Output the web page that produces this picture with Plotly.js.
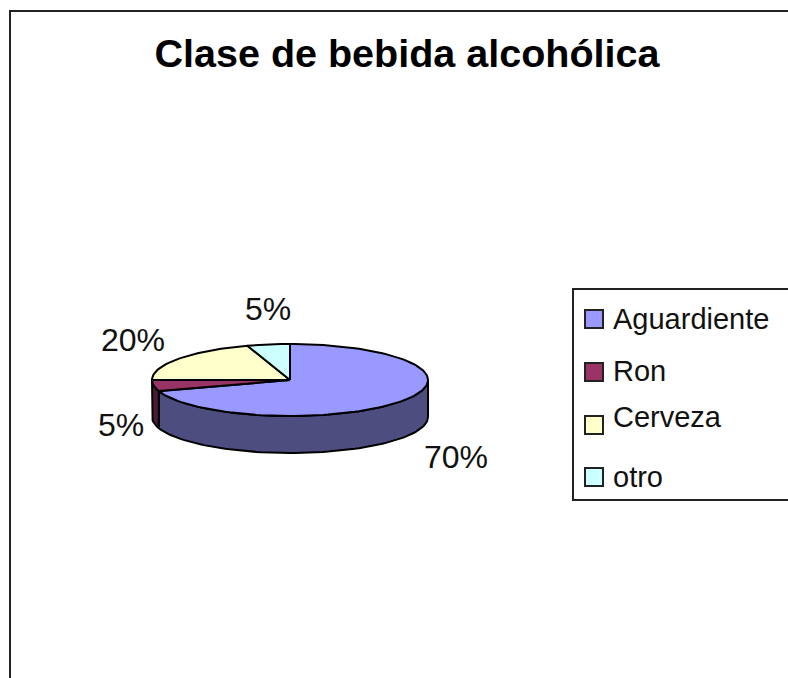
<!DOCTYPE html>
<html>
<head>
<meta charset="utf-8">
<script src="https://cdn.plot.ly/plotly-3.0.1.min.js"></script>
<style>html,body{margin:0;padding:0;background:#fff;overflow:hidden}#chart{width:788px;height:678px}</style>
</head>
<body>
<div id="chart"></div>
<script>
const categories = ['Aguardiente', 'Ron', 'Cerveza', 'otro'];
const percents = [70, 5, 20, 5];
const topColors = ['#9999FF', '#993366', '#FFFFCC', '#CCFFFF'];
const wallColors = ['#4D4D80', '#4D1A33', '#808066', '#668080'];

// page pixels are used as the axis units
const pie = { cx: 290, cy: 380, rx: 138, ry: 36, depth: 37 };
const labelX = [456, 121, 133, 268];
const labelY = [457, 425, 340, 309];
const legendSwatchX = 594;
const legendTextX = 613;
const legendSwatchY = [319, 372, 425, 477];
const legendTextY = [319, 371, 417, 477];
const inkColor = '#111111';

function rimPoint(deg, drop) {
  const t = (deg * Math.PI) / 180;
  return [pie.cx + pie.rx * Math.sin(t), pie.cy - pie.ry * Math.cos(t) + drop];
}

function arc(from, to, drop) {
  const pts = [];
  const steps = Math.max(2, Math.ceil(Math.abs(to - from) / 2));
  for (let i = 0; i <= steps; i++) pts.push(rimPoint(from + ((to - from) * i) / steps, drop));
  return pts;
}

function polygon(name, pts, fill) {
  return {
    type: 'scatter',
    mode: 'lines',
    name,
    x: pts.map((p) => p[0]),
    y: pts.map((p) => p[1]),
    fill: 'toself',
    fillcolor: fill,
    line: { color: '#000000', width: 2 },
    hoverinfo: 'name',
    showlegend: false,
  };
}

const walls = [];
const tops = [];
let start = 0;
percents.forEach((pct, i) => {
  const end = start + (pct / 100) * 360;
  const wallFrom = Math.max(start, 90);
  const wallTo = Math.min(end, 270);
  if (wallTo > wallFrom) {
    const pts = arc(wallFrom, wallTo, 0).concat(arc(wallTo, wallFrom, pie.depth));
    pts.push(pts[0]);
    walls.push(polygon(categories[i], pts, wallColors[i]));
  }
  const pts = [[pie.cx, pie.cy]].concat(arc(start, end, 0));
  pts.push([pie.cx, pie.cy]);
  tops.push(polygon(categories[i], pts, topColors[i]));
  start = end;
});

const swatches = {
  type: 'scatter',
  mode: 'markers',
  x: categories.map(() => legendSwatchX),
  y: legendSwatchY,
  text: categories,
  hoverinfo: 'text',
  showlegend: false,
  marker: { symbol: 'square', size: 18, color: topColors, line: { color: '#222222', width: 2 } },
};

const pctLabels = percents.map((pct, i) => ({
  x: labelX[i],
  y: labelY[i],
  text: `${pct}%`,
  showarrow: false,
  font: { size: 32, color: inkColor },
  xanchor: 'center',
  yanchor: 'middle',
}));

const legendLabels = categories.map((name, i) => ({
  x: legendTextX,
  y: legendTextY[i],
  text: name,
  showarrow: false,
  font: { size: 29, color: inkColor },
  xanchor: 'left',
  yanchor: 'middle',
  xshift: -2,
}));

const hiddenAxis = { visible: false, fixedrange: true };

Plotly.newPlot('chart', [...walls, ...tops, swatches], {
  width: 788,
  height: 678,
  margin: { l: 0, r: 0, t: 0, b: 0 },
  paper_bgcolor: '#ffffff',
  plot_bgcolor: '#ffffff',
  font: { family: '"Liberation Sans", Arial, sans-serif' },
  title: {
    text: '<b>Clase de bebida alcohólica</b>',
    font: { size: 39.5, color: '#000000' },
    x: 407 / 788,
    xanchor: 'center',
    y: 1 - 53 / 678,
    yanchor: 'middle',
  },
  xaxis: { ...hiddenAxis, range: [0, 788] },
  yaxis: { ...hiddenAxis, range: [678, 0] },
  showlegend: false,
  annotations: [...pctLabels, ...legendLabels],
  shapes: [
    { type: 'path', path: 'M 10 690 L 10 11 L 800 11', line: { color: '#222222', width: 2 }, layer: 'below' },
    { type: 'path', path: 'M 800 289 L 573 289 L 573 500 L 800 500', line: { color: '#222222', width: 2 }, layer: 'below' },
  ],
}, { displayModeBar: false });
</script>
</body>
</html>
